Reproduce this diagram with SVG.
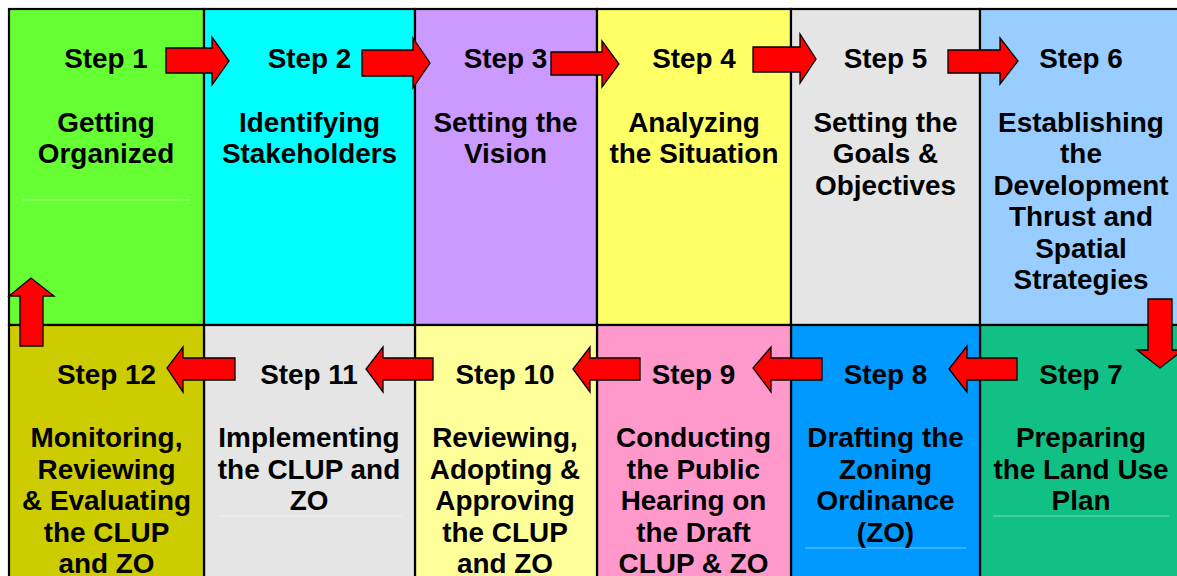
<svg xmlns="http://www.w3.org/2000/svg" width="1177" height="576" viewBox="0 0 1177 576">
<style>
.cell{stroke:#000;stroke-width:2.2}
.t{font-family:"Liberation Sans",Arial,sans-serif;font-weight:bold;font-size:27.9px;fill:#000;text-anchor:middle}
.arr{fill:#ff0000;stroke:#000;stroke-width:1.3;stroke-linejoin:miter}
.faint{stroke:#ffffff;stroke-opacity:0.45;stroke-width:1}
</style>
<rect width="1177" height="576" fill="#ffffff"/>
<g id="step1">
<rect class="cell" x="9" y="9" width="195" height="316" fill="#66ff33"/>
<line class="faint" x1="22" y1="200" x2="190" y2="200"/>
<text class="t" x="106" y="67.5">Step 1</text>
<text class="t"><tspan x="106" y="132">Getting</tspan><tspan x="106" y="163.4">Organized</tspan></text>
</g>
<g id="step2">
<rect class="cell" x="204" y="9" width="211" height="316" fill="#00ffff"/>
<text class="t" x="309.5" y="67.5">Step 2</text>
<text class="t"><tspan x="309.5" y="132">Identifying</tspan><tspan x="309.5" y="163.4">Stakeholders</tspan></text>
</g>
<g id="step3">
<rect class="cell" x="415" y="9" width="182" height="316" fill="#cc99ff"/>
<text class="t" x="505.5" y="67.5">Step 3</text>
<text class="t"><tspan x="505.5" y="132">Setting the</tspan><tspan x="505.5" y="163.4">Vision</tspan></text>
</g>
<g id="step4">
<rect class="cell" x="597" y="9" width="194" height="316" fill="#ffff66"/>
<text class="t" x="694" y="67.5">Step 4</text>
<text class="t"><tspan x="694" y="132">Analyzing</tspan><tspan x="694" y="163.4">the Situation</tspan></text>
</g>
<g id="step5">
<rect class="cell" x="791" y="9" width="189" height="316" fill="#e5e5e5"/>
<text class="t" x="885.5" y="67.5">Step 5</text>
<text class="t"><tspan x="885.5" y="132">Setting the</tspan><tspan x="885.5" y="163.4">Goals &amp;</tspan><tspan x="885.5" y="194.8">Objectives</tspan></text>
</g>
<g id="step6">
<rect class="cell" x="980" y="9" width="203" height="316" fill="#99ccff"/>
<text class="t" x="1081" y="67.5">Step 6</text>
<text class="t"><tspan x="1081" y="132">Establishing</tspan><tspan x="1081" y="163.4">the</tspan><tspan x="1081" y="194.8">Development</tspan><tspan x="1081" y="226.2">Thrust and</tspan><tspan x="1081" y="257.6">Spatial</tspan><tspan x="1081" y="289">Strategies</tspan></text>
</g>
<g id="step7">
<rect class="cell" x="980" y="325" width="203" height="280" fill="#10c084"/>
<line class="faint" x1="993" y1="516" x2="1169" y2="516"/>
<text class="t" x="1081" y="383.5">Step 7</text>
<text class="t"><tspan x="1081" y="447">Preparing</tspan><tspan x="1081" y="478.5">the Land Use</tspan><tspan x="1081" y="510">Plan</tspan></text>
</g>
<g id="step8">
<rect class="cell" x="791" y="325" width="189" height="280" fill="#0099ff"/>
<line class="faint" x1="805" y1="548" x2="966" y2="548"/>
<text class="t" x="885.5" y="383.5">Step 8</text>
<text class="t"><tspan x="885.5" y="447">Drafting the</tspan><tspan x="885.5" y="478.5">Zoning</tspan><tspan x="885.5" y="510">Ordinance</tspan><tspan x="885.5" y="541.5">(ZO)</tspan></text>
</g>
<g id="step9">
<rect class="cell" x="597" y="325" width="194" height="280" fill="#ff99cc"/>
<text class="t" x="693.5" y="383.5">Step 9</text>
<text class="t"><tspan x="693.5" y="447">Conducting</tspan><tspan x="693.5" y="478.5">the Public</tspan><tspan x="693.5" y="510">Hearing on</tspan><tspan x="693.5" y="541.5">the Draft</tspan><tspan x="693.5" y="573">CLUP &amp; ZO</tspan></text>
</g>
<g id="step10">
<rect class="cell" x="415" y="325" width="182" height="280" fill="#ffff99"/>
<text class="t" x="505" y="383.5">Step 10</text>
<text class="t"><tspan x="505" y="447">Reviewing,</tspan><tspan x="505" y="478.5">Adopting &amp;</tspan><tspan x="505" y="510">Approving</tspan><tspan x="505" y="541.5">the CLUP</tspan><tspan x="505" y="573">and ZO</tspan></text>
</g>
<g id="step11">
<rect class="cell" x="204" y="325" width="211" height="280" fill="#e5e5e5"/>
<line class="faint" x1="218" y1="516" x2="402" y2="516"/>
<text class="t" x="309" y="383.5">Step 11</text>
<text class="t"><tspan x="309" y="447">Implementing</tspan><tspan x="309" y="478.5">the CLUP and</tspan><tspan x="309" y="510">ZO</tspan></text>
</g>
<g id="step12">
<rect class="cell" x="9" y="325" width="195" height="280" fill="#cccc00"/>
<text class="t" x="106.5" y="383.5">Step 12</text>
<text class="t"><tspan x="106.5" y="447">Monitoring,</tspan><tspan x="106.5" y="478.5">Reviewing</tspan><tspan x="106.5" y="510">&amp; Evaluating</tspan><tspan x="106.5" y="541.5">the CLUP</tspan><tspan x="106.5" y="573">and ZO</tspan></text>
</g>
<g id="connectors">
<polygon class="arr" points="166,48 212,48 212,37 229,61 212,85 212,73 166,73"/>
<polygon class="arr" points="362,50 413,50 413,38 430,63 413,88 413,76 362,76"/>
<polygon class="arr" points="551,52 602,52 602,41 619,64 602,87 602,75 551,75"/>
<polygon class="arr" points="753,47 800,47 800,34 816,59 800,83 800,72 753,72"/>
<polygon class="arr" points="948,50 1000,50 1000,38 1018,61 1000,84 1000,73 948,73"/>
<polygon class="arr" points="1148,299 1172,299 1172,350 1183,350 1160,368 1137,350 1148,350"/>
<polygon class="arr" points="1017,358 967,358 967,346 949,369 967,392 967,380 1017,380"/>
<polygon class="arr" points="822,358 771,358 771,347 753,368 771,392 771,380 822,380"/>
<polygon class="arr" points="640,358 590,358 590,347 573,369 590,392 590,380 640,380"/>
<polygon class="arr" points="433,358 383,358 383,347 366,369 383,392 383,380 433,380"/>
<polygon class="arr" points="235,358 183,358 183,347 167,368 183,392 183,380 235,380"/>
<polygon class="arr" points="20,346 20,296 9,296 31,278 54,296 43,296 43,346"/>
</g>
</svg>
